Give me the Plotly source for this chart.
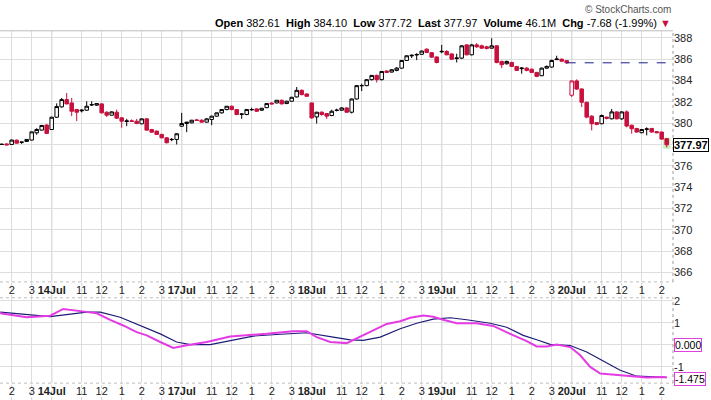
import plotly.graph_objects as go

# ---------------- data ----------------
days = ["13Jul", "14Jul", "17Jul", "18Jul", "19Jul", "20Jul"]
day_first_bar = ["13:30", "9:30", "9:30", "9:30", "9:30", "9:30"]
bars_per_day = [10, 26, 26, 26, 26, 20]

open_ = [378.02, 378.05, 378.00, 378.40, 378.20, 378.28, 378.41, 379.09, 379.34, 379.82,
         379.40, 380.55, 381.52, 382.20, 381.89, 381.27, 381.15, 381.21, 381.70, 381.68,
         381.80, 381.02, 380.74, 381.02, 380.49, 380.15, 380.22, 380.18, 379.93, 380.40,
         379.40, 379.25, 378.94, 378.62, 378.45, 378.47,
         379.71, 379.96, 380.02, 380.30, 380.27, 380.09, 380.34, 380.65, 380.96, 381.27,
         381.58, 381.27, 380.82, 380.80, 381.25, 381.33, 381.21, 381.45, 381.88, 381.89,
         382.14, 381.83, 382.05, 382.45, 383.07, 382.73,
         381.89, 380.58, 381.02, 380.89, 380.71, 381.18, 381.21, 381.42, 381.02, 382.26,
         383.50, 383.51, 384.07, 384.47, 384.07, 384.88, 384.78, 384.94, 385.15, 385.87,
         386.30, 386.38, 386.45, 386.93, 386.60, 386.20,
         386.68, 386.71, 386.48, 386.05, 386.09, 387.33, 386.40, 387.33, 387.24, 387.15,
         387.02, 387.24, 385.78, 385.56, 385.68, 385.31, 385.10, 385.15, 385.05, 384.75,
         384.44, 385.15, 385.25, 385.95, 385.99, 385.85,
         382.61, 383.95, 383.20, 381.95, 380.65, 380.05, 379.94, 380.56, 380.40, 381.05,
         380.40, 381.05, 379.80, 379.50, 379.10, 379.42, 379.50, 379.20, 379.16, 378.54]
high = [378.08, 378.10, 378.45, 378.46, 378.25, 378.50, 379.20, 379.52, 379.80, 379.90,
        380.60, 381.85, 382.36, 382.82, 382.36, 381.33, 381.30, 382.05, 382.05, 381.85,
        381.85, 381.10, 381.10, 381.27, 380.55, 380.40, 380.35, 380.40, 380.42, 380.45,
        379.46, 379.30, 379.00, 378.70, 378.60, 379.05,
        380.96, 380.12, 380.30, 380.40, 380.35, 380.45, 380.70, 381.00, 381.30, 381.60,
        381.65, 381.30, 380.90, 381.30, 381.45, 381.40, 381.42, 381.85, 381.95, 382.15,
        382.20, 382.10, 382.45, 383.38, 383.15, 382.78,
        381.92, 381.05, 381.10, 380.95, 381.25, 381.35, 381.50, 381.48, 382.30, 383.55,
        383.70, 384.10, 384.50, 384.55, 384.85, 384.95, 385.05, 385.25, 385.90, 386.33,
        386.45, 386.55, 386.80, 387.00, 386.65, 386.25,
        387.33, 386.85, 386.55, 386.50, 387.30, 387.40, 387.42, 387.50, 387.35, 387.25,
        387.95, 387.30, 385.85, 385.85, 385.75, 385.35, 385.25, 385.25, 385.10, 384.80,
        385.20, 385.40, 385.95, 386.31, 386.05, 385.90,
        384.00, 384.10, 383.25, 382.00, 380.75, 380.10, 380.80, 380.60, 381.33, 381.10,
        381.10, 381.20, 379.85, 379.55, 379.45, 379.60, 379.55, 379.25, 379.20, 378.60]
low = [377.96, 377.92, 377.95, 378.08, 378.05, 378.24, 378.38, 378.90, 379.30, 379.00,
       379.38, 380.50, 381.45, 381.75, 380.65, 380.18, 381.00, 381.15, 381.60, 381.62,
       380.90, 380.58, 380.70, 380.40, 379.56, 379.71, 380.10, 379.90, 379.90, 379.30,
       379.10, 378.90, 378.58, 378.10, 378.30, 378.00,
       379.65, 379.15, 379.98, 380.20, 380.05, 380.05, 379.80, 380.60, 380.90, 381.20,
       381.20, 380.75, 380.40, 380.75, 381.15, 381.05, 381.15, 381.40, 381.75, 381.85,
       381.75, 381.78, 382.00, 382.40, 382.60, 382.45,
       380.40, 379.96, 380.70, 380.40, 380.65, 381.10, 381.15, 380.95, 380.90, 382.20,
       383.00, 383.45, 384.00, 383.80, 384.00, 384.70, 384.75, 384.85, 385.10, 385.85,
       386.10, 385.90, 386.40, 386.55, 386.10, 385.60,
       386.55, 386.35, 385.92, 385.68, 386.00, 386.35, 386.35, 387.05, 386.95, 386.90,
       386.98, 385.60, 385.15, 385.50, 385.25, 384.88, 384.63, 384.85, 384.70, 384.30,
       384.40, 385.10, 385.20, 385.90, 385.75, 385.55,
       382.45, 383.10, 381.50, 380.45, 379.32, 379.80, 379.90, 380.35, 380.35, 380.35,
       380.30, 379.60, 379.01, 379.10, 379.05, 378.85, 379.10, 379.05, 378.45, 377.72]
close = [378.00, 377.96, 378.41, 378.12, 378.22, 378.47, 379.18, 379.40, 379.78, 379.03,
         380.55, 381.55, 382.20, 381.80, 381.11, 381.02, 381.21, 381.58, 381.73, 381.83,
         380.96, 380.74, 381.05, 380.46, 380.18, 380.20, 380.16, 379.96, 380.40, 379.34,
         379.15, 378.94, 378.62, 378.16, 378.47, 379.00,
         379.96, 380.09, 380.27, 380.25, 380.09, 380.40, 380.65, 380.96, 381.27, 381.58,
         381.27, 380.80, 380.85, 381.27, 381.27, 381.11, 381.39, 381.83, 381.80, 382.14,
         381.80, 382.05, 382.42, 383.07, 382.67, 382.51,
         380.49, 381.02, 380.80, 380.65, 381.11, 381.21, 381.42, 381.02, 382.26, 383.51,
         383.52, 384.07, 384.47, 384.07, 384.84, 384.75, 385.00, 385.15, 385.87, 386.31,
         386.35, 386.43, 386.75, 386.62, 386.18, 385.68,
         386.72, 386.40, 385.99, 386.10, 387.24, 386.40, 387.33, 387.15, 387.02, 387.00,
         387.24, 385.68, 385.47, 385.78, 385.31, 384.94, 385.15, 384.94, 384.75, 384.38,
         385.15, 385.31, 385.87, 386.00, 385.80, 385.65,
         383.95, 383.19, 381.95, 380.56, 379.94, 379.88, 380.71, 380.45, 381.05, 380.40,
         381.05, 379.72, 379.47, 379.16, 379.40, 379.45, 379.16, 379.10, 378.50, 377.97]
volume_text = "46.1M"

# indicator lines (bar position, value)
fast_x = [-0.3, 5.0, 9.7, 12.3, 15.7, 19.0, 21.7, 24.3, 27.0, 29.0, 31.7, 34.3, 37.0, 41.0,
          45.7, 49.0, 53.0, 58.3, 61.0, 63.0, 65.7, 69.0, 71.0, 73.0, 74.3, 77.0, 79.7, 81.7,
          84.3, 86.3, 88.3, 91.0, 95.0, 98.3, 101.7, 105.0, 107.0, 109.0, 111.0, 113.7,
          115.7, 117.7, 119.7, 122.3, 126.3, 129.0, 132.3, 133.0]
fast_y = [1.43, 1.25, 1.32, 1.63, 1.53, 1.43, 1.13, 0.88, 0.58, 0.43, 0.13, -0.14, -0.02, 0.13,
          0.38, 0.43, 0.50, 0.62, 0.62, 0.35, 0.13, 0.08, 0.30, 0.50, 0.68, 0.95, 1.07, 1.23,
          1.33, 1.27, 1.14, 0.98, 0.98, 0.86, 0.50, 0.17, -0.07, -0.07, 0.02, -0.10,
          -0.47, -1.00, -1.30, -1.35, -1.45, -1.48, -1.46, -1.475]
slow_x = [-0.3, 5.0, 9.7, 17.0, 19.7, 23.7, 27.7, 31.7, 35.0, 37.7, 41.7, 46.3, 50.3, 55.0,
          61.0, 66.3, 69.7, 72.3, 75.7, 79.7, 83.0, 86.3, 89.7, 93.0, 97.7, 101.0, 104.3,
          107.0, 109.7, 113.7, 117.0, 120.3, 123.7, 127.0, 130.3, 133.0]
slow_y = [1.48, 1.37, 1.28, 1.48, 1.48, 1.25, 0.88, 0.50, 0.13, 0.01, 0.01, 0.23, 0.40, 0.47,
          0.55, 0.35, 0.23, 0.20, 0.35, 0.73, 0.98, 1.17, 1.23, 1.14, 0.98, 0.80, 0.43,
          0.23, 0.02, -0.03, -0.32, -0.73, -1.15, -1.42, -1.45, -1.475]
zero_tag = 0.0
price_ticks = list(range(366, 389, 2))

# ---------------- derived ----------------
RED = "#c8103e"
hour_label = {11: "11", 12: "12", 13: "1", 14: "2", 15: "3"}
times, day_of_bar = [], []
for d, (start, n) in enumerate(zip(day_first_bar, bars_per_day)):
    h, m = map(int, start.split(":"))
    for k in range(n):
        times.append(h * 60 + m + 15 * k)
        day_of_bar.append(d)
n_bars = len(times)
idx = list(range(n_bars))

tickvals, ticktext, day_starts = [], [], []
for i, (t, d) in enumerate(zip(times, day_of_bar)):
    if t == 9 * 60 + 30:
        tickvals.append(i); ticktext.append("<b>%s</b>" % days[d]); day_starts.append(i)
    elif t % 60 == 0 and t // 60 in hour_label:
        tickvals.append(i); ticktext.append(hour_label[t // 60])

# colour group by close vs previous close
black_i, red_i = [], []
for i in idx:
    prev = close[i - 1] if i > 0 else close[i]
    (red_i if close[i] < prev else black_i).append(i)

last_day = len(days) - 1
ld = [i for i in idx if day_of_bar[i] == last_day]
prev_close = close[ld[0] - 1]
d_open = open_[ld[0]]
d_high = max(high[i] for i in ld)
d_low = min(low[i] for i in ld)
last = close[-1]
chg = last - prev_close
pct = chg / prev_close * 100

# price labels: the one hidden under the last-price tag is left blank
price_text = ["" if abs(p - last) < 1.0 else str(p) for p in price_ticks]

fig = go.Figure()


def sub(arr, ids):
    return [arr[i] for i in ids]


fig.add_trace(go.Candlestick(
    x=black_i, open=sub(open_, black_i), high=sub(high, black_i), low=sub(low, black_i),
    close=sub(close, black_i),
    increasing=dict(fillcolor="white", line=dict(color="black", width=1)),
    decreasing=dict(fillcolor="black", line=dict(color="black", width=1)),
    xaxis="x", yaxis="y", hoverinfo="skip", showlegend=False))
fig.add_trace(go.Candlestick(
    x=red_i, open=sub(open_, red_i), high=sub(high, red_i), low=sub(low, red_i),
    close=sub(close, red_i),
    increasing=dict(fillcolor="white", line=dict(color=RED, width=1)),
    decreasing=dict(fillcolor=RED, line=dict(color=RED, width=1)),
    xaxis="x", yaxis="y", hoverinfo="skip", showlegend=False))

fig.add_trace(go.Scatter(x=slow_x, y=slow_y, mode="lines", line=dict(color="#1c1c78", width=1.2),
                         xaxis="x2", yaxis="y2", hoverinfo="skip", showlegend=False))
fig.add_trace(go.Scatter(x=fast_x, y=fast_y, mode="lines", line=dict(color="#e53be5", width=2),
                         xaxis="x2", yaxis="y2", hoverinfo="skip", showlegend=False))

W, H = 711, 400
main_top, main_bot = 28, 281
low_top, low_bot = 297, 383
xr = [-0.34, 134.26]
font = "Liberation Sans, Arial, sans-serif"

axis_common = dict(range=xr, tickvals=tickvals, ticktext=ticktext, showgrid=True,
                   gridcolor="#dedede", gridwidth=1, zeroline=False, showline=False,
                   ticks="", tickfont=dict(family=font, size=11, color="#222"),
                   fixedrange=True)

fig.update_layout(
    width=W, height=H, margin=dict(l=0, r=38, t=0, b=0),
    paper_bgcolor="white", plot_bgcolor="white",
    boxgap=0.3, boxgroupgap=0,
    xaxis=dict(**axis_common, domain=[0, 1], anchor="y", rangeslider=dict(visible=False)),
    xaxis2=dict(**axis_common, domain=[0, 1], anchor="y2"),
    yaxis=dict(domain=[1 - main_bot / H, 1 - main_top / H], side="right", anchor="x",
               range=[365.12, 388.65], tickvals=price_ticks, ticktext=price_text,
               showgrid=True, gridcolor="#dedede", zeroline=False, ticks="",
               tickfont=dict(family=font, size=11, color="#222"), fixedrange=True),
    yaxis2=dict(domain=[1 - low_bot / H, 1 - low_top / H], side="right", anchor="x2",
                range=[-1.734, 2.135], tickvals=[2, 1, 0, -1], ticktext=["2", "1", "", "-1"],
                showgrid=True, gridcolor="#dedede", zeroline=False, ticks="",
                tickfont=dict(family=font, size=11, color="#222"), fixedrange=True),
)

shapes = []
# day-start lines
for s in day_starts:
    for xa, ya in (("x", "y domain"), ("x2", "y2 domain")):
        shapes.append(dict(type="line", xref=xa, yref=ya, x0=s, x1=s, y0=0, y1=1,
                           line=dict(color="#a9a9a9", width=1), layer="below"))
# dotted tick separators inside the date strips
for tv in tickvals:
    shapes.append(dict(type="line", xref="x", yref="paper", x0=tv, x1=tv,
                       y0=1 - low_top / H, y1=1 - main_bot / H,
                       line=dict(color="#cfcfcf", width=1, dash="dot"), layer="below"))
    shapes.append(dict(type="line", xref="x", yref="paper", x0=tv, x1=tv,
                       y0=0, y1=1 - low_bot / H,
                       line=dict(color="#cfcfcf", width=1, dash="dot"), layer="below"))
# borders
shapes.append(dict(type="line", xref="paper", yref="paper", x0=0, x1=1,
                   y0=1 - main_top / H, y1=1 - main_top / H, line=dict(color="#bdbdbd", width=1)))
for yy in (main_bot, low_top, low_bot):
    shapes.append(dict(type="line", xref="paper", yref="paper", x0=0, x1=1,
                       y0=1 - yy / H, y1=1 - yy / H, line=dict(color="#bdbdbd", width=1, dash="dot")))
for a, b in ((main_top, main_bot), (low_top, low_bot)):
    shapes.append(dict(type="line", xref="paper", yref="paper", x0=1, x1=1,
                       y0=1 - b / H, y1=1 - a / H, line=dict(color="#9a9a9a", width=1, dash="dot")))
# previous close dashed line
shapes.append(dict(type="line", xref="x", yref="y", x0=ld[0] - 1, x1=xr[1],
                   y0=prev_close, y1=prev_close, line=dict(color="#1c1c8c", width=1, dash="dash")))
# highlight of last bar
shapes.append(dict(type="rect", xref="x", yref="y", x0=idx[-1] - 0.75, x1=idx[-1] + 0.75,
                   y0=low[-1] - 0.12, y1=high[-1] + 0.05, fillcolor="rgba(160,225,130,0.55)",
                   line=dict(width=0), layer="below"))
fig.update_layout(shapes=shapes)

header = ("<b>Open</b> %.2f  <b>High</b> %.2f  <b>Low</b> %.2f  <b>Last</b> %.2f  "
          "<b>Volume</b> %s  <b>Chg</b> %.2f (%.2f%%) <span style='color:%s'>▼</span>"
          % (d_open, d_high, d_low, last, volume_text, chg, pct, RED))
ann = [
    dict(xref="paper", yref="paper", x=1.0, y=1 - 20 / H, xanchor="right", yanchor="middle",
         text=header, showarrow=False, font=dict(family=font, size=11, color="black")),
    dict(xref="paper", yref="paper", x=1.0, y=1 - 7 / H, xanchor="right", yanchor="middle",
         text="© StockCharts.com", showarrow=False, font=dict(family=font, size=10, color="#555")),
    dict(xref="paper", yref="y", x=1, y=last, xanchor="left", yanchor="middle", xshift=0,
         text="<b>%.2f</b>" % last, showarrow=False, bgcolor="white", bordercolor="black",
         borderwidth=1, borderpad=0, font=dict(family=font, size=11, color="black")),
    dict(xref="paper", yref="y2", x=1, y=zero_tag, xanchor="left", yanchor="middle", xshift=1,
         text="%.3f" % zero_tag, showarrow=False, bgcolor="white", bordercolor="#e040e0",
         borderwidth=1, borderpad=0, font=dict(family=font, size=10.5, color="black")),
    dict(xref="paper", yref="y2", x=1, y=slow_y[-1], xanchor="left", yanchor="middle", xshift=1,
         yshift=-2, text="%.3f" % slow_y[-1], showarrow=False, bgcolor="white",
         bordercolor="#e040e0", borderwidth=1, borderpad=0,
         font=dict(family=font, size=10.5, color="black")),
]
fig.update_layout(annotations=ann)

fig.write_html("out.html")
